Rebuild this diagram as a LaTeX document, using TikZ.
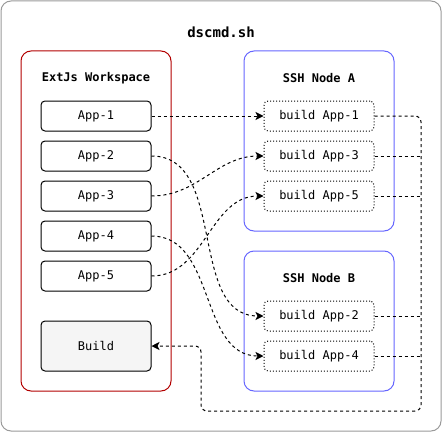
\documentclass[tikz,border=0pt]{standalone}
\usepackage{fontspec}
\setmonofont{DejaVu Sans Mono}
\usetikzlibrary{arrows.meta}
\definecolor{wsred}{HTML}{B20000}
\definecolor{sshblue}{HTML}{6666FF}
\definecolor{outergray}{HTML}{9A9A9A}
\tikzset{
  container/.style={draw, rounded corners=10pt, line width=1pt},
  appbox/.style={draw, rounded corners=4pt, line width=1pt, minimum width=110pt, minimum height=30pt, font=\ttfamily\fontsize{12}{14}\selectfont, inner sep=0pt},
  buildbox/.style={draw, dotted, rounded corners=4pt, line width=1pt, minimum width=110pt, minimum height=30pt, font=\ttfamily\fontsize{12}{14}\selectfont, inner sep=0pt},
  titletext/.style={font=\ttfamily\bfseries\fontsize{12}{14}\selectfont, inner sep=0pt},
  link/.style={dashed, dash pattern=on 3pt off 3pt, line width=1pt, -{Stealth[length=8pt,width=8pt,inset=2pt]}},
  feed/.style={dashed, dash pattern=on 3pt off 3pt, line width=1pt},
}
\begin{document}
\begin{tikzpicture}[x=1pt,y=-1pt]
\useasboundingbox (0,0) rectangle (443,433);
\draw[outergray, line width=1pt, rounded corners=10pt] (1,1) rectangle (441,431);
\node[font=\ttfamily\bfseries\fontsize{14}{16}\selectfont] (title) at (221,32) {dscmd.sh};
% containers
\draw[container, wsred] (21,51) rectangle (171,391);
\node[titletext] (wstitle) at (96,78) {ExtJs Workspace};
\draw[container, sshblue] (244,51) rectangle (394,231);
\node[titletext] (atitle) at (319,78) {SSH Node A};
\draw[container, sshblue] (244,251) rectangle (394,391);
\node[titletext] (btitle) at (319,278) {SSH Node B};
% apps
\node[appbox] (a1) at (96,116) {App-1};
\node[appbox] (a2) at (96,156) {App-2};
\node[appbox] (a3) at (96,196) {App-3};
\node[appbox] (a4) at (96,236) {App-4};
\node[appbox] (a5) at (96,276) {App-5};
\node[appbox, fill=black!4, minimum height=50pt] (build) at (96,346) {Build};
% build nodes
\node[buildbox] (b1) at (319,116) {build App-1};
\node[buildbox] (b3) at (319,156) {build App-3};
\node[buildbox] (b5) at (319,196) {build App-5};
\node[buildbox] (b2) at (319,316) {build App-2};
\node[buildbox] (b4) at (319,356) {build App-4};
% links
\draw[link] (a1.east) -- (b1.west);
\draw[link] (a2.east) to[out=0,in=180] (b2.west);
\draw[link] (a3.east) to[out=0,in=180] (b3.west);
\draw[link] (a4.east) to[out=0,in=180] (b4.west);
\draw[link] (a5.east) to[out=0,in=180] (b5.west);
% feedback
\coordinate (c1) at (421,116);
\coordinate (c2) at (421,411);
\coordinate (c3) at (201,411);
\coordinate (c4) at (201,346);
\coordinate (j3) at (421,156);
\coordinate (j5) at (421,196);
\coordinate (j2) at (421,316);
\coordinate (j4) at (421,356);
\draw[link, rounded corners=6pt] (b1.east) -- (c1) -- (c2) -- (c3) -- (c4) -- (build.east);
\draw[feed] (b3.east) -- (j3);
\draw[feed] (b5.east) -- (j5);
\draw[feed] (b2.east) -- (j2);
\draw[feed] (b4.east) -- (j4);
\end{tikzpicture}
\end{document}
